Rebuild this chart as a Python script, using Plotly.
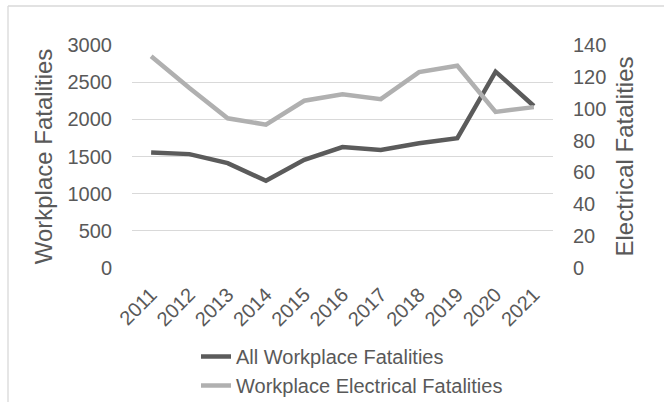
import plotly.graph_objects as go

# Annual fatality counts, 2011-2021
years = ["2011", "2012", "2013", "2014", "2015", "2016",
         "2017", "2018", "2019", "2020", "2021"]
all_workplace = [1555, 1532, 1411, 1173, 1455, 1626, 1589, 1679, 1746, 2641, 2180]
electrical = [133, 113, 94, 90, 105, 109, 106, 123, 127, 98, 101]

left_ticks = [0, 500, 1000, 1500, 2000, 2500, 3000]
right_ticks = [0, 20, 40, 60, 80, 100, 120, 140]

TEXT = "#595959"
FONT = "Arial, Liberation Sans, sans-serif"

W, H = 664, 402
L, R, T, B = 132, 111, 45, 134
pw, ph = W - L - R, H - T - B


def px_x(x):
    return (x - L) / pw


def px_y(y):
    return (H - B - y) / ph


fig = go.Figure()
fig.add_trace(go.Scatter(
    x=years, y=all_workplace, name="All Workplace Fatalities",
    mode="lines", line=dict(color="#5B5B5B", width=4.5), yaxis="y",
))
fig.add_trace(go.Scatter(
    x=years, y=electrical, name="Workplace Electrical Fatalities",
    mode="lines", line=dict(color="#B0B0B0", width=4.5), yaxis="y2",
))

fig.update_layout(
    width=W, height=H,
    margin=dict(l=L, r=R, t=T, b=B, autoexpand=False),
    paper_bgcolor="white", plot_bgcolor="white",
    font=dict(family=FONT, size=20, color=TEXT),
    xaxis=dict(
        type="category", range=[-0.5, 10.5], tickangle=-45,
        showgrid=False, showline=False, zeroline=False, ticks="",
        ticklabelstandoff=10, automargin=False,
    ),
    yaxis=dict(
        range=[0, 3000], tickvals=left_ticks, showgrid=True,
        gridcolor="#D9D9D9", gridwidth=1.3, zeroline=False, ticks="",
        ticklabelstandoff=19, automargin=False,
        title=dict(text="Workplace Fatalities", standoff=8),
    ),
    yaxis2=dict(
        range=[0, 140], tickvals=right_ticks, overlaying="y", side="right",
        showgrid=False, zeroline=False, ticks="", ticklabelstandoff=19,
        automargin=False,
        title=dict(text="Electrical Fatalities", standoff=10),
    ),
    legend=dict(
        orientation="v", x=px_x(196), y=px_y(337), xanchor="left", yanchor="top",
        font=dict(size=20, color=TEXT), bgcolor="rgba(0,0,0,0)",
        tracegroupgap=0, itemwidth=30,
    ),
    shapes=[
        dict(type="line", xref="paper", yref="paper",
             x0=px_x(8), x1=px_x(664), y0=px_y(6), y1=px_y(6),
             line=dict(color="#D9D9D9", width=1.3)),
        dict(type="line", xref="paper", yref="paper",
             x0=px_x(8), x1=px_x(8), y0=px_y(6), y1=px_y(402),
             line=dict(color="#D9D9D9", width=1.3)),
    ],
)

fig.write_html("out.html")
